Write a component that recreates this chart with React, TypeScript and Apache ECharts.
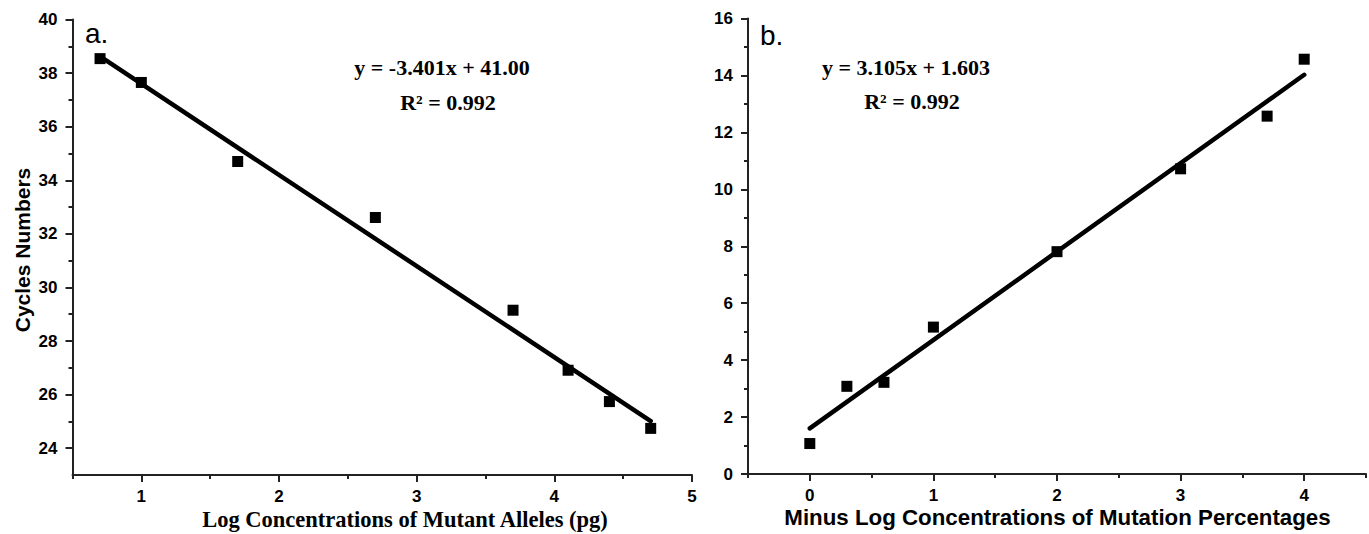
import React, { useEffect, useRef } from "react";
import * as echarts from "echarts";

// Panel a: log concentration of mutant alleles (pg) vs cycle numbers
const aX = [0.7, 1.0, 1.7, 2.7, 3.7, 4.1, 4.4, 4.7];
const aY = [38.54, 37.65, 34.7, 32.61, 29.15, 26.91, 25.74, 24.74];
const aFit = { slope: -3.401, intercept: 41.0, from: 0.7, to: 4.7 };

// Panel b: minus log concentration of mutation percentages vs value
const bX = [0, 0.3, 0.6, 1, 2, 3, 3.7, 4];
const bY = [1.07, 3.08, 3.22, 5.16, 7.81, 10.72, 12.57, 14.57];
const bFit = { slope: 3.105, intercept: 1.603, from: 0, to: 4 };

const aYMajor = [24, 26, 28, 30, 32, 34, 36, 38, 40];
const aYMinor = [25, 27, 29, 31, 33, 35, 37, 39];
const aXMajor = [1, 2, 3, 4, 5];
const aXMinor = [0.5, 1.5, 2.5, 3.5, 4.5];
const bXMajor = [0, 1, 2, 3, 4];
const bXMinor = [-0.5, 0.5, 1.5, 2.5, 3.5, 4.5];

const AXIS = "#222";
const tickFont = {
  fontFamily: "Liberation Sans, Arial, sans-serif",
  fontWeight: "bold" as const,
  fontSize: 17,
  color: "#000",
};

function fitLine(f: { slope: number; intercept: number; from: number; to: number }) {
  return [
    [f.from, f.slope * f.from + f.intercept],
    [f.to, f.slope * f.to + f.intercept],
  ];
}

export default function App() {
  const ref = useRef<HTMLDivElement>(null);
  useEffect(() => {
    if (!ref.current) return;
    const chart = echarts.init(ref.current, undefined, { renderer: "svg" });
    const majorX = (gridIndex: number, min: number, max: number, vals: number[]) => ({
      type: "value",
      gridIndex,
      min,
      max,
      position: "bottom",
      offset: 0,
      splitLine: { show: false },
      axisLine: { show: true, onZero: false, lineStyle: { color: AXIS, width: 2 } },
      axisTick: { show: true, customValues: vals, length: 7, lineStyle: { color: AXIS, width: 2 } },
      axisLabel: { show: true, customValues: vals, margin: 13, ...tickFont },
    });
    const minorX = (gridIndex: number, min: number, max: number, vals: number[]) => ({
      type: "value",
      gridIndex,
      min,
      max,
      position: "bottom",
      offset: 0,
      splitLine: { show: false },
      axisLine: { show: false, onZero: false },
      axisTick: { show: true, customValues: vals, length: 4, lineStyle: { color: AXIS, width: 2 } },
      axisLabel: { show: false },
    });
    const scatterStyle = { color: "#000", opacity: 1 };
    const option: any = {
      animation: false,
      backgroundColor: "#fff",
      grid: [
        { left: 72.5, top: 19.5, width: 619.5, height: 455.5 },
        { left: 748, top: 18.5, width: 618, height: 455.5 },
      ],
      xAxis: [
        majorX(0, 0.5, 5, aXMajor),
        minorX(0, 0.5, 5, aXMinor),
        majorX(1, -0.5, 4.5, bXMajor),
        minorX(1, -0.5, 4.5, bXMinor),
      ],
      yAxis: [
        {
          type: "value",
          gridIndex: 0,
          min: 23,
          max: 40,
          position: "left",
          offset: 0,
          splitLine: { show: false },
          axisLine: { show: true, onZero: false, lineStyle: { color: AXIS, width: 2 } },
          axisTick: { show: true, customValues: aYMajor, length: 7, lineStyle: { color: AXIS, width: 2 } },
          axisLabel: { show: true, customValues: aYMajor, margin: 15, ...tickFont },
        },
        {
          type: "value",
          gridIndex: 0,
          min: 23,
          max: 40,
          position: "left",
          offset: 0,
          splitLine: { show: false },
          axisLine: { show: false, onZero: false },
          axisTick: { show: true, customValues: aYMinor, length: 4, lineStyle: { color: AXIS, width: 2 } },
          axisLabel: { show: false },
        },
        {
          type: "value",
          gridIndex: 1,
          min: 0,
          max: 16,
          interval: 2,
          position: "left",
          splitLine: { show: false },
          axisLine: { show: true, onZero: false, lineStyle: { color: AXIS, width: 2 } },
          axisTick: { show: true, length: 7, lineStyle: { color: AXIS, width: 2 } },
          minorTick: { show: true, splitNumber: 2, length: 4, lineStyle: { color: AXIS, width: 2 } },
          axisLabel: { show: true, margin: 15, ...tickFont },
        },
      ],
      series: [
        {
          type: "scatter",
          xAxisIndex: 0,
          yAxisIndex: 0,
          symbol: "rect",
          symbolSize: 11,
          itemStyle: scatterStyle,
          data: aX.map((x, i) => [x, aY[i]]),
          z: 3,
        },
        {
          type: "line",
          xAxisIndex: 0,
          yAxisIndex: 0,
          showSymbol: false,
          symbol: "none",
          lineStyle: { color: "#000", width: 4.5, cap: "round" },
          data: fitLine(aFit),
          z: 4,
        },
        {
          type: "scatter",
          xAxisIndex: 2,
          yAxisIndex: 2,
          symbol: "rect",
          symbolSize: 11,
          itemStyle: scatterStyle,
          data: bX.map((x, i) => [x, bY[i]]),
          z: 3,
        },
        {
          type: "line",
          xAxisIndex: 2,
          yAxisIndex: 2,
          showSymbol: false,
          symbol: "none",
          lineStyle: { color: "#000", width: 4.5, cap: "round" },
          data: fitLine(bFit),
          z: 4,
        },
      ],
      graphic: [
        {
          type: "text",
          x: 22,
          y: 250,
          rotation: Math.PI / 2,
          style: {
            text: "Cycles Numbers",
            fontFamily: "Liberation Sans, Arial, sans-serif",
            fontWeight: "bold",
            fontSize: 21,
            fill: "#000",
            align: "center",
            verticalAlign: "middle",
          },
        },
        {
          type: "text",
          x: 405,
          y: 519,
          style: {
            text: "Log Concentrations of Mutant Alleles (pg)",
            fontFamily: "Liberation Serif, Times New Roman, serif",
            fontWeight: "bold",
            fontSize: 22.5,
            fill: "#000",
            align: "center",
            verticalAlign: "middle",
          },
        },
        {
          type: "text",
          x: 1057.5,
          y: 517,
          style: {
            text: "Minus Log Concentrations of Mutation Percentages",
            fontFamily: "Liberation Sans, Arial, sans-serif",
            fontWeight: "bold",
            fontSize: 22.3,
            fill: "#000",
            align: "center",
            verticalAlign: "middle",
          },
        },
        {
          type: "text",
          x: 85,
          y: 33,
          style: {
            text: "a.",
            fontFamily: "Liberation Sans, Arial, sans-serif",
            fontSize: 28,
            fill: "#000",
            align: "left",
            verticalAlign: "middle",
          },
        },
        {
          type: "text",
          x: 760,
          y: 35,
          style: {
            text: "b.",
            fontFamily: "Liberation Sans, Arial, sans-serif",
            fontSize: 28,
            fill: "#000",
            align: "left",
            verticalAlign: "middle",
          },
        },
        {
          type: "text",
          x: 442,
          y: 67,
          style: {
            text: "y = -3.401x + 41.00",
            fontFamily: "Liberation Serif, Times New Roman, serif",
            fontWeight: "bold",
            fontSize: 22,
            fill: "#000",
            align: "center",
            verticalAlign: "middle",
          },
        },
        {
          type: "text",
          x: 448,
          y: 102,
          style: {
            text: "R² = 0.992",
            fontFamily: "Liberation Serif, Times New Roman, serif",
            fontWeight: "bold",
            fontSize: 22,
            fill: "#000",
            align: "center",
            verticalAlign: "middle",
          },
        },
        {
          type: "text",
          x: 906,
          y: 67,
          style: {
            text: "y = 3.105x + 1.603",
            fontFamily: "Liberation Serif, Times New Roman, serif",
            fontWeight: "bold",
            fontSize: 22,
            fill: "#000",
            align: "center",
            verticalAlign: "middle",
          },
        },
        {
          type: "text",
          x: 912,
          y: 101,
          style: {
            text: "R² = 0.992",
            fontFamily: "Liberation Serif, Times New Roman, serif",
            fontWeight: "bold",
            fontSize: 22,
            fill: "#000",
            align: "center",
            verticalAlign: "middle",
          },
        },
      ],
    };
    chart.setOption(option);
    return () => chart.dispose();
  }, []);
  return (
    <div
      ref={ref}
      style={{ position: "absolute", left: 0, top: 0, width: 1369, height: 534, background: "#fff" }}
    />
  );
}
